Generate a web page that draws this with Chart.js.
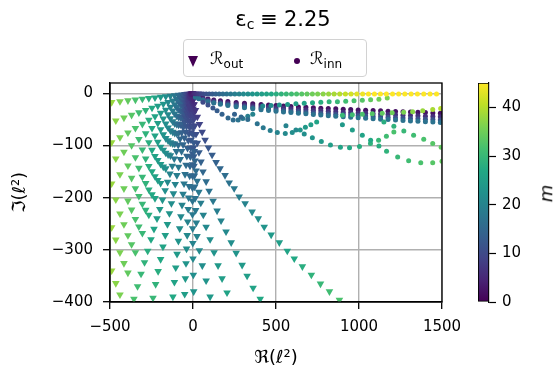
<!DOCTYPE html>
<html>
<head>
<meta charset="utf-8">
<script src="https://cdn.jsdelivr.net/npm/chart.js@4.4.0/dist/chart.umd.min.js"></script>
<style>
body{margin:0;background:#fff;font-family:"DejaVu Sans",sans-serif;color:#000;}
#wrap{position:relative;width:557px;height:370px;overflow:hidden;}
canvas{position:absolute;top:0;}
#title{position:absolute;left:173px;top:9px;width:220px;text-align:center;font-size:21px;line-height:21px;}
#title sub{font-size:14px;vertical-align:-3px;line-height:0;}
#title .rel{margin:0 6px;}
#legend{position:absolute;left:183px;top:39px;width:184px;height:38px;border:1px solid #d2d2d2;border-radius:4px;box-sizing:border-box;background:rgba(255,255,255,0.85);}
#legend .tri{position:absolute;left:4px;top:16px;width:0;height:0;border-left:5px solid transparent;border-right:5px solid transparent;border-top:11px solid #440154;}
#legend .dot{position:absolute;left:110px;top:18px;width:6px;height:6px;border-radius:50%;background:#440154;}
#legend .lab{position:absolute;top:8px;font-size:17px;line-height:20px;}
#legend .lab sub{font-size:12px;vertical-align:-4px;line-height:0;}
#mlabel{position:absolute;left:537px;top:183px;font-size:18px;font-style:italic;transform:rotate(-90deg);}
</style>
</head>
<body>
<div id="wrap">
  <canvas id="chartMain" width="557" height="370"></canvas>
  <canvas id="chartBar" width="87" height="370" style="left:470px"></canvas>
  <div id="title">&epsilon;<sub>c</sub><span class="rel">&equiv;</span>2.25</div>
  <div id="legend">
    <span class="tri"></span><span class="lab" style="left:26px">&#8475;<sub>out</sub></span>
    <span class="dot"></span><span class="lab" style="left:126px">&#8475;<sub>inn</sub></span>
  </div>
  <div id="mlabel">m</div>
</div>

<script>
var M_MAX = 45;
var xTicks = [-500, 0, 500, 1000, 1500];
var yTicks = [-400, -300, -200, -100, 0];
var cbTicks = [0, 10, 20, 30, 40];

// R_out : fan of rays to the left, re/m shared by parity, one im row per ray
var fanMEven = [38,36,34,32,30,28,26,24,22,20,18,16,14,12,10,8,6,4];
var fanReEven = [-490,-440,-392,-347,-305,-266,-229,-195,-164,-136,-110,-87,-66,-49,-34,-22,-12,-5];
var fanMOdd = [37,35,33,31,29,27,25,23,21,19,17,15,13,11,9,7,5,3];
var fanReOdd = [-465,-416,-370,-326,-285,-247,-212,-179,-150,-122,-98,-76,-57,-41,-27,-17,-8,-3];
var fanIm = [
  [-17,-15.3,-13.6,-12.1,-10.6,-9.2,-8,-6.8,-5.7,-4.7,-3.8,-3,-2.3,-1.7,-1.2,-0.8,-0.4,-0.2],
  [-52.1,-46.7,-41.5,-36.6,-32,-27.8,-23.8,-20.1,-16.8,-13.8,-11,-8.6,-6.4,-4.6,-3.1,-1.9,-1,-0.3],
  [-94,-84.4,-75.3,-66.7,-58.6,-51,-44,-37.5,-31.5,-26,-21.1,-16.7,-12.8,-9.4,-6.5,-4.2,-2.3,-1],
  [-125.1,-112,-99.6,-87.8,-76.9,-66.6,-57.1,-48.4,-40.3,-33,-26.4,-20.6,-15.4,-11.1,-7.4,-4.5,-2.3,-0.8],
  [-173,-155.3,-138.5,-122.7,-107.8,-93.9,-81,-69,-58,-47.9,-38.8,-30.7,-23.5,-17.2,-12,-7.7,-4.3,-1.9],
  [-203.8,-182.4,-162.2,-143.1,-125.2,-108.5,-93.1,-78.8,-65.7,-53.8,-43,-33.5,-25.2,-18,-12.1,-7.3,-3.7,-1.3],
  [-257,-230.7,-205.8,-182.2,-160.2,-139.5,-120.3,-102.5,-86.1,-71.2,-57.7,-45.6,-34.9,-25.6,-17.8,-11.4,-6.4,-2.9],
  [-280.6,-251.1,-223.2,-197,-172.4,-149.4,-128.1,-108.4,-90.4,-74,-59.2,-46.1,-34.6,-24.8,-16.6,-10,-5.1,-1.8],
  [-340,-305.2,-272.2,-241.1,-211.9,-184.6,-159.2,-135.6,-114,-94.2,-76.3,-60.3,-46.1,-33.9,-23.6,-15.1,-8.5,-3.8],
  [-364.1,-325.8,-289.6,-255.6,-223.6,-193.8,-166.2,-140.7,-117.3,-96,-76.8,-59.8,-44.9,-32.2,-21.5,-13,-6.6,-2.4],
  [-430,-386,-344,-305,-268,-233,-201,-172,-144,-119,-96.5,-76,-58,-43,-30,-19,-11,-5]
];

// R_out : steeper branches, [re, im, m]
var outB1 = [[-356,-394,32],[-334,-370,31],[-313,-346,30],[-292,-324,29],[-273,-302,28],[-253,-280,27],[-235,-260,26],[-217,-240,25],[-200,-222,24],[-184,-204,23],[-168,-186,22],[-153,-170,21],[-139,-154,20],[-125,-139,19],[-113,-125,18],[-100,-111,17],[-89,-99,16],[-78,-87,15],[-68,-75,14],[-59,-65,13],[-50,-55,12],[-42,-47,11],[-35,-38,10],[-28,-31,9],[-22,-25,8]];
var outB2 = [[-241,-392,30],[-225,-366,29],[-210,-341,28],[-195,-318,27],[-181,-294,26],[-167,-272,25],[-154,-251,24],[-142,-230,23],[-130,-211,22],[-118,-192,21],[-107,-174,20],[-97,-157,19],[-87,-141,18],[-77,-126,17],[-69,-111,16],[-60,-98,15],[-52,-85,14],[-45,-74,13],[-39,-63,12],[-32,-53,11],[-27,-44,10],[-22,-35,9],[-17,-28,8]];
var outB3 = [[-121,-390,27],[-112,-362,26],[-104,-334,25],[-96,-308,24],[-88,-283,23],[-80,-259,22],[-73,-236,21],[-66,-214,20],[-60,-193,19],[-54,-173,18],[-48,-155,17],[-42,-137,16],[-37,-120,15],[-33,-105,14],[-28,-90,13],[-24,-77,12],[-20,-65,11],[-17,-54,10],[-13,-43,9],[-11,-34,8]];
var outB4 = [[-50,-385,25],[-46,-355,24],[-42,-326,23],[-39,-298,22],[-35,-272,21],[-32,-246,20],[-29,-222,19],[-26,-200,18],[-23,-178,17],[-20,-158,16],[-18,-139,15],[-16,-121,14],[-14,-104,13],[-12,-89,12],[-10,-75,11],[-8,-62,10]];
var outColA = [[4,-380,23],[2,-348,22],[0,-317,21],[-1,-287,20],[-2,-259,19],[-3,-232,18],[-3,-206,17],[-3,-181,16],[-3,-158,15],[-3,-136,14],[-3,-115,13]];
var outColB = [[103,-390,24],[79,-359,23],[56,-330,22],[38,-301,21],[24,-274,20],[20,-248,19],[16,-224,18],[13,-201,17],[10,-179,16],[8,-158,15],[6,-139,14],[5,-121,13],[3.5,-104,12]];
var outColC = [[205,-382,26],[175,-355,25],[151,-330,24],[127,-305,23],[103,-280,22],[79,-256,21],[62,-233,20],[47,-210,19],[35,-189,18],[25,-168,17],[18,-148,16],[12,-129,15],[8,-111,14],[5,-94,13],[3,-79,12],[2,-65,11],[1,-52,10],[1,-40,9],[0,-30,8],[0,-21,7],[0,-13,6]];
var outColD = [[405,-394,27],[362,-373,26],[326,-350,25],[296,-329,24],[260,-306,23],[230,-286,22],[199,-265,21],[169,-244,20],[145,-225,19],[121,-206,18],[97,-187,17],[79,-169,16],[60,-150,15],[48,-131,14],[36,-113,13],[26,-95,12],[18,-78,11],[11,-62,10],[6,-47,9],[3,-34,8],[1,-22,7],[0,-12,6]];
var outColE = [[882,-396,32],[822,-380,31],[768,-365,30],[713,-348,29],[659,-332,28],[610,-317,27],[568,-302,26],[520,-286,25],[471,-271,24],[429,-256,23],[393,-240,22],[356,-227,21],[314,-211,20],[278,-198,19],[248,-182,18],[218,-171,17],[193,-157,16],[163,-144,15],[139,-132,14],[115,-118,13],[93,-104,12],[73,-89,11],[55,-74,10],[39,-59,9],[26,-45,8],[15,-32,7],[7,-21,6],[2,-12,5]];

// R_inn : near-flat top row and a few dipping branches, [re, im, m]
var innTop = [[5,-0.3,5],[12,-0.5,6],[22,-0.6,7],[34,-0.7,8],[48,-0.8,9],[63,-0.9,10],[80,-1,11],[98,-1,12],[117,-1,13],[137,-1,14],[158,-1,15],[180,-1,16],[203,-1,17],[227,-1,18],[252,-1,19],[278,-1,20],[304,-1,21],[331,-1,22],[358,-1,23],[386,-1,24],[414,-1,25],[443,-1,26],[472,-1,27],[502,-1,28],[532,-1,29],[562,-1,30],[593,-1,31],[624,-1,32],[655,-1,33],[687,-1,34],[719,-1,35],[751,-1,36],[784,-1,37],[817,-1,38],[850,-1,39],[884,-1,40],[918,-1,41],[952,-1,42],[987,-1,43],[1022,-1,44],[1057,-1,45],[1093,-1,46],[1129,-1,47],[1165,-1,48],[1202,-1,49],[1239,-1,50],[1276,-1,51],[1314,-1,52],[1352,-1,53],[1390,-1,54],[1428,-1,55],[1467,-1,56]];
var innRise = [[420,-24,21],[470,-23,22],[520,-22,23],[570,-21,24],[620,-20,25],[670,-19,26],[720,-18,27],[770,-17,28],[820,-16,29],[870,-16,30],[920,-15,31],[970,-14,32],[1020,-13,33],[1070,-12,34],[1120,-11,35],[1170,-9,36]];
var innRow3 = [[900,-42,30],[960,-41,31],[1020,-40,32],[1080,-39,33],[1140,-38,34],[1200,-37,35],[1269,-36,36],[1323,-35,37],[1384,-33,38],[1444,-31,39],[1492,-29,40]];
var innC1 = [[60,-17,10],[90,-22,11],[120,-28,12],[145,-33,13],[175,-40,14],[211,-47,15],[242,-51,16],[272,-51,17],[300,-48,18],[330,-44,19],[360,-40,20]];
var innC2 = [[250,-40,14],[290,-45,15],[330,-50,16],[387,-58,17],[423,-66,18],[465,-71,19],[508,-75,20],[556,-77,21],[598,-75,22],[646,-70,23],[677,-65,24],[710,-60,25],[745,-55,26]];
var innC3 = [[560,-62,20],[620,-70,21],[670,-78,22],[719,-85,23],[773,-92,24],[828,-99,25],[888,-103,26],[943,-104,27],[1003,-102,28],[1069,-96,29],[1118,-90,30],[1165,-82,31],[1210,-74,32]];
var innC4 = [[900,-60,24],[960,-70,25],[1020,-80,26],[1070,-90,27],[1120,-101,28],[1166,-111,29],[1233,-122,30],[1299,-129,31],[1372,-133,32],[1444,-133,33],[1500,-130,34]];
var innC5 = [[1150,-55,28],[1210,-63,29],[1270,-72,30],[1329,-80,31],[1390,-88,32],[1444,-96,33],[1495,-103,34]];
// dense band just below the real axis: shared re, one im row per band line
var bandRe = [15,35,60,90,125,165,210,260,310,360,410,455,500,545,590,635,680,725,770,815,860,905,950,995,1040,1085,1130,1175,1220,1265,1310,1355,1400,1445,1490];
var bandM = [2, 6, 11, 17];
var bandIm = [
  [-4.8,-7,-8.9,-10.7,-12.4,-14.1,-15.7,-17.3,-18.7,-20,-21.2,-22.2,-23.2,-24.1,-25,-25.8,-26.6,-27.4,-28.2,-28.9,-29.6,-30.3,-30.9,-31.6,-32.2,-32.8,-33.4,-34,-34.6,-35.2,-35.8,-36.3,-36.8,-37.4,-37.9],
  [-5.7,-8.3,-10.6,-12.7,-14.7,-16.7,-18.6,-20.4,-22.1,-23.7,-25.1,-26.3,-27.5,-28.5,-29.6,-30.6,-31.5,-32.4,-33.3,-34.2,-35.1,-35.9,-36.6,-37.4,-38.2,-38.9,-39.6,-40.3,-41,-41.7,-42.3,-43,-43.6,-44.2,-44.9],
  [-6.4,-9.4,-12,-14.4,-16.7,-18.9,-21.1,-23.2,-25.1,-26.8,-28.5,-29.8,-31.1,-32.3,-33.5,-34.6,-35.7,-36.8,-37.8,-38.8,-39.7,-40.6,-41.5,-42.4,-43.2,-44.1,-44.9,-45.7,-46.5,-47.2,-48,-48.7,-49.4,-50.1,-50.8],
  [-7.1,-10.3,-13.2,-15.8,-18.3,-20.7,-23.1,-25.4,-27.6,-29.5,-31.2,-32.8,-34.2,-35.5,-36.8,-38,-39.2,-40.4,-41.5,-42.6,-43.6,-44.6,-45.6,-46.5,-47.5,-48.4,-49.3,-50.2,-51,-51.9,-52.7,-53.5,-54.3,-55,-55.8]
];

var viridis = ['#440154','#482475','#414487','#355f8d','#2a788e','#21918c','#22a884','#44bf70','#7ad151','#bddf26','#fde725'];

function hexRgb(h){
  return [parseInt(h.slice(1,3),16), parseInt(h.slice(3,5),16), parseInt(h.slice(5,7),16)];
}
function mColor(m){
  var t = Math.max(0, Math.min(1, m / M_MAX)) * 10;
  var i = Math.min(9, Math.floor(t)), f = t - i;
  var a = hexRgb(viridis[i]), b = hexRgb(viridis[i+1]);
  return 'rgb(' + [0,1,2].map(function(k){ return Math.round(a[k] + (b[k]-a[k])*f); }).join(',') + ')';
}
function minus(v){ return String(v).replace('-', '\u2212'); }

var outPts = [];
fanIm.forEach(function(row, k){
  var re = k % 2 ? fanReOdd : fanReEven;
  var mm = k % 2 ? fanMOdd : fanMEven;
  row.forEach(function(y, i){ outPts.push([re[i], y, mm[i]]); });
});
outPts = outPts.concat(outB1, outB2, outB3, outB4, outColA, outColB, outColC, outColD, outColE);

var innPts = [];
bandIm.forEach(function(row, k){
  row.forEach(function(y, i){ innPts.push([bandRe[i], y, bandM[k]]); });
});
innPts = innPts.concat(innC1, innC2, innC3, innC4, innC5, innRow3, innRise, innTop);

Chart.defaults.font.family = "'DejaVu Sans', sans-serif";
Chart.defaults.color = '#000';

var frame = {
  id: 'frame',
  afterDatasetsDraw: function(c){
    var a = c.chartArea, x = c.ctx;
    x.save();
    x.strokeStyle = '#000';
    x.lineWidth = 1.3;
    x.strokeRect(a.left, a.top, a.right - a.left, a.bottom - a.top);
    x.restore();
  }
};

var tickFont = {size: 15};

new Chart(document.getElementById('chartMain'), {
  type: 'scatter',
  data: {
    datasets: [
      {
        label: 'inn',
        order: 0,
        data: innPts.map(function(p){ return {x: p[0], y: p[1]}; }),
        backgroundColor: innPts.map(function(p){ return mColor(p[2]); }),
        borderWidth: 0,
        pointStyle: 'circle',
        pointRadius: 2.5,
        clip: 0
      },
      {
        label: 'out',
        order: 1,
        data: outPts.map(function(p){ return {x: p[0], y: p[1]}; }),
        backgroundColor: outPts.map(function(p){ return mColor(p[2]); }),
        borderWidth: 0,
        pointStyle: 'triangle',
        rotation: 180,
        pointRadius: 4.4,
        clip: 0
      }
    ]
  },
  options: {
    responsive: false,
    animation: false,
    events: [],
    layout: {padding: {top: 83, right: 115, left: 0, bottom: 0}},
    plugins: {legend: {display: false}, tooltip: {enabled: false}},
    scales: {
      x: {
        type: 'linear', min: -500, max: 1500,
        afterBuildTicks: function(s){ s.ticks = xTicks.map(function(v){ return {value: v}; }); },
        afterFit: function(s){ s.height = 68; },
        ticks: {font: tickFont, padding: 9, maxRotation: 0, callback: minus},
        grid: {color: '#b0b0b0', lineWidth: 1.4, tickColor: '#000', tickLength: 7, tickWidth: 1.3},
        border: {color: '#000', width: 1.3},
        title: {display: true, text: '\u211C(\u2113\u00B2)', font: {size: 18}, padding: {top: 1, bottom: 1}}
      },
      y: {
        type: 'linear', min: -400, max: 20,
        afterBuildTicks: function(s){ s.ticks = yTicks.map(function(v){ return {value: v}; }); },
        afterFit: function(s){ s.width = 110; },
        ticks: {font: tickFont, padding: 10, callback: minus},
        grid: {color: '#b0b0b0', lineWidth: 1.4, tickColor: '#000', tickLength: 7, tickWidth: 1.3},
        border: {color: '#000', width: 1.3},
        title: {display: true, text: '\u2111(\u2113\u00B2)', font: {size: 18}, padding: {top: 10, bottom: 0}}
      }
    }
  },
  plugins: [frame]
});

new Chart(document.getElementById('chartBar'), {
  type: 'bar',
  data: {
    labels: ['m'],
    datasets: [{
      data: [[0, M_MAX]],
      backgroundColor: function(c){
        var a = c.chart.chartArea;
        if (!a) return viridis[5];
        var g = c.chart.ctx.createLinearGradient(0, a.bottom, 0, a.top);
        viridis.forEach(function(col, i){ g.addColorStop(i / 10, col); });
        return g;
      },
      borderColor: '#000',
      borderWidth: 1.2,
      borderSkipped: false,
      barPercentage: 1,
      categoryPercentage: 1
    }]
  },
  options: {
    responsive: false,
    animation: false,
    events: [],
    layout: {padding: {left: 8, top: 83, bottom: 68, right: 0}},
    plugins: {legend: {display: false}, tooltip: {enabled: false}},
    scales: {
      x: {display: false},
      y: {
        position: 'right', min: 0, max: M_MAX,
        afterBuildTicks: function(s){ s.ticks = cbTicks.map(function(v){ return {value: v}; }); },
        afterFit: function(s){ s.width = 68; },
        ticks: {font: tickFont, padding: 6},
        grid: {drawOnChartArea: false, tickColor: '#000', tickLength: 7, tickWidth: 1.2},
        border: {color: '#000', width: 1.2}
      }
    }
  }
});
</script>
</body>
</html>
